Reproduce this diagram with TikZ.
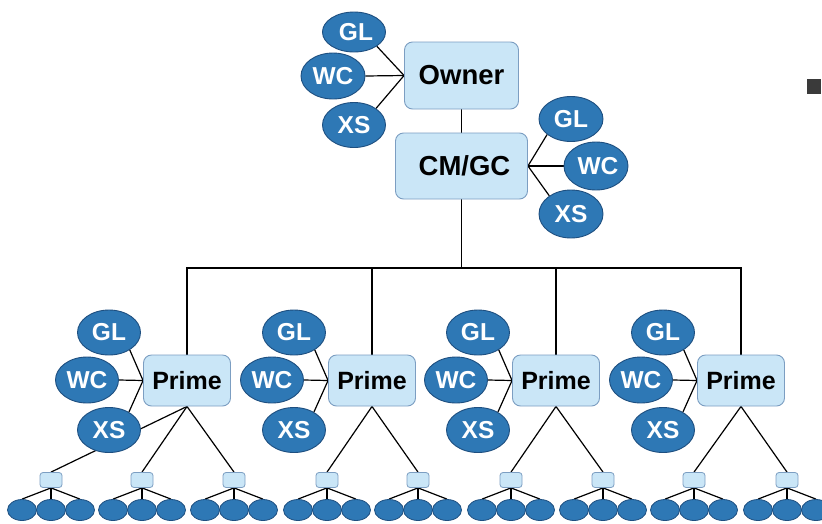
\documentclass[tikz,border=0pt]{standalone}
\usepackage{fontspec}
\setmainfont{Liberation Sans}
\usetikzlibrary{shapes.geometric,backgrounds}
\definecolor{nodeblue}{HTML}{2E78B5}
\definecolor{nodeedge}{HTML}{1E4F80}
\definecolor{boxfill}{HTML}{CAE6F7}
\definecolor{boxedge}{HTML}{7C9EC2}
\definecolor{markgray}{HTML}{3A3A3A}
\begin{document}
\begin{tikzpicture}[x=1pt,y=-1pt,
  role/.style={ellipse, draw=nodeedge, fill=nodeblue, line width=0.9pt,
    inner sep=0pt, text=white, font=\bfseries\fontsize{24.5}{24.5}\selectfont},
  leaf/.style={ellipse, draw=nodeedge, fill=nodeblue, line width=0.8pt,
    minimum width=29pt, minimum height=21pt, inner sep=0pt},
  unit/.style={draw=boxedge, fill=boxfill, rounded corners=8pt,
    line width=0.9pt, inner sep=0pt},
  tipbox/.style={draw=boxedge, fill=boxfill, rounded corners=3pt,
    line width=0.8pt, inner sep=0pt, minimum width=22pt, minimum height=15pt},
  wire/.style={draw=black, line width=1.2pt},
  bigtext/.style={font=\bfseries\fontsize{27.5}{27.5}\selectfont},
  primetext/.style={font=\bfseries\fontsize{25}{25}\selectfont}
]
\useasboundingbox (0,0) rectangle (822,523);
\begin{scope}[on background layer]
  \fill[white] (0,0) rectangle (822,523);
\end{scope}

% top of the hierarchy
\node[unit, bigtext, minimum width=114pt, minimum height=67pt] (owner) at (461.5,75.5) {Owner};
\node[role, minimum width=63pt, minimum height=40pt] (ogl) at (354,32) {\hspace{4pt}GL};
\node[role, minimum width=64pt, minimum height=46pt] (owc) at (333,76) {WC};
\node[role, minimum width=63pt, minimum height=45pt] (oxs) at (354,125) {XS};

\node[unit, bigtext, minimum width=132pt, minimum height=66pt] (cm) at (461.5,166) {\hspace{6pt}CM/GC};
\node[role, minimum width=64pt, minimum height=45pt] (cgl) at (571,119) {GL};
\node[role, minimum width=64pt, minimum height=48pt] (cwc) at (596,166) {\hspace{4pt}WC};
\node[role, minimum width=64pt, minimum height=48pt] (cxs) at (571,214) {XS};

\coordinate (bus) at (461.5,268);

\begin{scope}[on background layer]
  \draw[wire] (owner.west) -- (ogl.-32);
  \draw[wire] (owner.west) -- (owc.east);
  \draw[wire] (owner.west) -- (oxs.37);
  \draw[wire] (cm.east) -- (cgl.-147);
  \draw[wire] (cm.east) -- (cwc.west);
  \draw[wire] (cm.east) -- (cxs.140);
  \draw[wire] (owner.south) -- (cm.north);
  \draw[wire] (cm.south) -- (bus);
\end{scope}

% prime units with their role ellipses
\foreach \i/\px in {1/187,2/372,3/556,4/741}{
  \node[unit, primetext, minimum width=87pt, minimum height=51pt] (p\i) at (\px,380.5) {Prime\hspace{4pt}};
  \node[role, minimum width=63pt, minimum height=45pt] (gl\i) at (\px-78,332.5) {GL};
  \node[role, minimum width=63pt, minimum height=46pt] (wc\i) at (\px-100,380) {WC};
  \node[role, minimum width=63pt, minimum height=45pt] (xs\i) at (\px-78,430) {XS};
  \begin{scope}[on background layer]
    \draw[wire] (bus) -| (p\i.north);
    \draw[wire] (p\i.west) -- (gl\i.-40);
    \draw[wire] (p\i.west) -- (wc\i.east);
    \draw[wire] (p\i.west) -- (xs\i.42);
  \end{scope}
}

% lowest level: small boxes, each with three ellipses
\foreach \j/\lx/\i in {1/51/1,2/142/1,3/234/1,4/327/2,5/418/2,6/511/3,7/603/3,8/694/4,9/787/4}{
  \node[tipbox] (b\j) at (\lx,480) {};
  \node[leaf] (la\j) at (\lx-29,510) {};
  \node[leaf] (lb\j) at (\lx,510) {};
  \node[leaf] (lc\j) at (\lx+29,510) {};
  \begin{scope}[on background layer]
    \draw[wire] (p\i.south) -- (b\j.north);
    \draw[wire] (b\j.south) -- (la\j.north);
    \draw[wire] (b\j.south) -- (lb\j.north);
    \draw[wire] (b\j.south) -- (lc\j.north);
  \end{scope}
}

% bullet at the right margin
\node[fill=markgray, minimum width=14pt, minimum height=15pt, inner sep=0pt] (bullet) at (814,86.5) {};
\end{tikzpicture}
\end{document}
